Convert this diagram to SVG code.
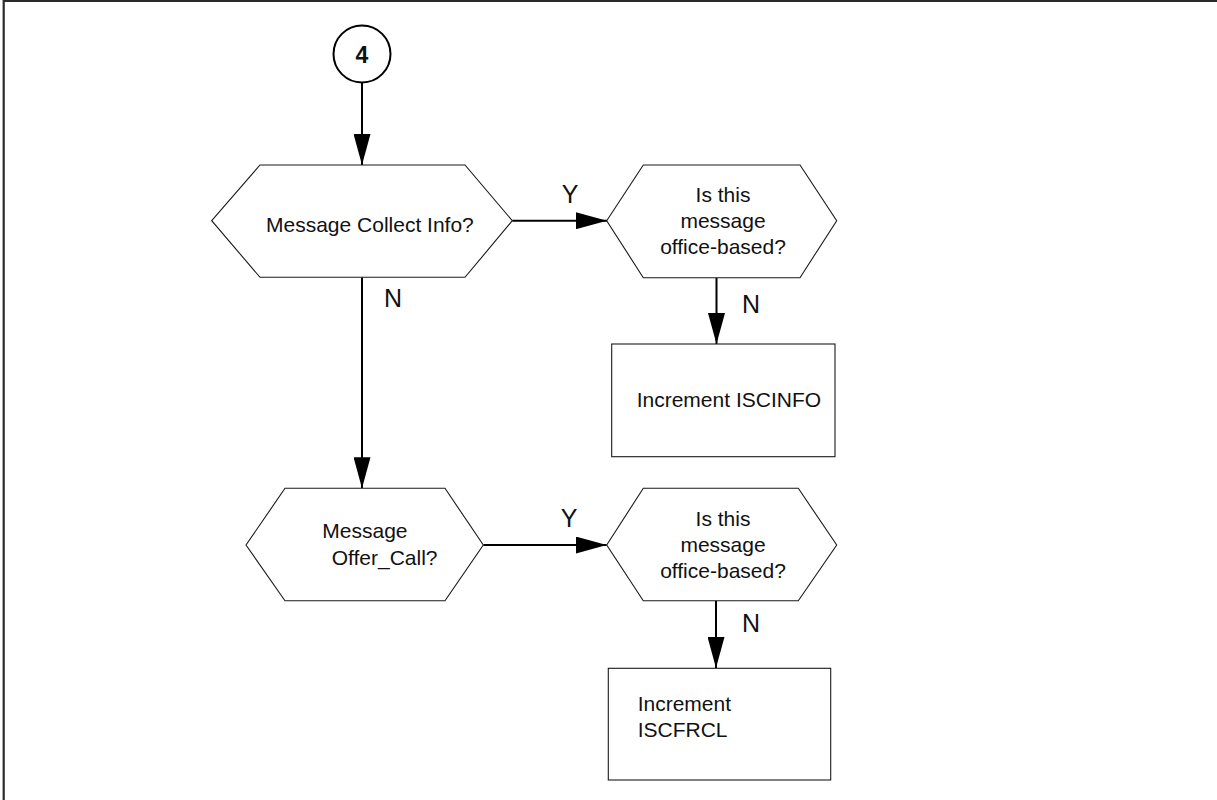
<svg xmlns="http://www.w3.org/2000/svg" width="1217" height="800" viewBox="0 0 1217 800">
  <style>
    .frame { fill: none; stroke: #2b2b2b; stroke-width: 2.2; }
    .shape { fill: #ffffff; stroke: #1a1a1a; stroke-width: 1.1; }
    .term { fill: #ffffff; stroke: #000000; stroke-width: 2; }
    .edge { fill: none; stroke: #000000; stroke-width: 2; marker-end: url(#arrow); }
    .txt { font-family: "Liberation Sans", Arial, sans-serif; font-size: 21px; fill: #111111; }
    .lbl { font-family: "Liberation Sans", Arial, sans-serif; font-size: 25px; fill: #111111; text-anchor: middle; }
    .num { font-family: "Liberation Sans", Arial, sans-serif; font-size: 23px; font-weight: bold; fill: #111111; text-anchor: middle; }
  </style>
  <defs>
    <marker id="arrow" markerUnits="userSpaceOnUse" markerWidth="31" markerHeight="17" refX="31" refY="8.5" orient="auto">
      <path d="M0,0 L31,8.5 L0,17 Z" fill="#000000"/>
    </marker>
  </defs>

  <rect width="1217" height="800" fill="#ffffff"/>
  <path class="frame" d="M3.7,802 V1 H1220"/>

  <!-- connectors -->
  <g id="connectors">
    <line class="edge" x1="362" y1="83" x2="362" y2="165"/>
    <line class="edge" x1="512.3" y1="220.7" x2="607" y2="220.7"/>
    <line class="edge" x1="716.5" y1="277.7" x2="716.5" y2="344"/>
    <line class="edge" x1="362" y1="277.3" x2="362" y2="488.3"/>
    <line class="edge" x1="483.3" y1="545" x2="606.7" y2="545"/>
    <line class="edge" x1="716" y1="600.7" x2="716" y2="668"/>
    <text class="lbl" x="570" y="203">Y</text>
    <text class="lbl" x="751" y="313">N</text>
    <text class="lbl" x="393" y="307">N</text>
    <text class="lbl" x="569" y="527">Y</text>
    <text class="lbl" x="751" y="632">N</text>
  </g>

  <!-- connector 4 -->
  <g id="start">
    <circle class="term" cx="362" cy="54" r="28.5"/>
    <text class="num" x="362" y="63">4</text>
  </g>

  <!-- Message Collect Info? -->
  <g id="collect-info">
    <polygon class="shape" points="211.7,220.7 260,165 465,165 512.3,220.7 465,277.3 260,277.3"/>
    <text class="txt" x="266" y="232">Message Collect Info?</text>
  </g>

  <!-- office-based check (collect info) -->
  <g id="office-based-1">
    <polygon class="shape" points="606.7,220.7 643.3,165 800,165 836.7,220.7 800,277.7 643.3,277.7"/>
    <text class="txt" text-anchor="middle" x="723" y="202">Is this</text>
    <text class="txt" text-anchor="middle" x="723" y="227.8">message</text>
    <text class="txt" text-anchor="middle" x="723" y="253.6">office-based?</text>
  </g>

  <!-- Increment ISCINFO -->
  <g id="iscinfo">
    <rect class="shape" x="611.7" y="344" width="223.3" height="112.7"/>
    <text class="txt" x="636.7" y="407.3">Increment ISCINFO</text>
  </g>

  <!-- Message Offer_Call? -->
  <g id="offer-call">
    <polygon class="shape" points="246,545 285,488.3 445,488.3 483.3,545 445,600.7 285,600.7"/>
    <text class="txt" x="322.3" y="538.3">Message</text>
    <text class="txt" x="331.7" y="565">Offer_Call?</text>
  </g>

  <!-- office-based check (offer call) -->
  <g id="office-based-2">
    <polygon class="shape" points="606.7,545 643.3,488.3 798.3,488.3 836.7,545 798.3,600.7 643.3,600.7"/>
    <text class="txt" text-anchor="middle" x="723" y="526.3">Is this</text>
    <text class="txt" text-anchor="middle" x="723" y="552">message</text>
    <text class="txt" text-anchor="middle" x="723" y="577.9">office-based?</text>
  </g>

  <!-- Increment ISCFRCL -->
  <g id="iscfrcl">
    <rect class="shape" x="608.3" y="668.3" width="222.4" height="111.7"/>
    <text class="txt" x="637.7" y="710.7">Increment</text>
    <text class="txt" x="637.7" y="737.3">ISCFRCL</text>
  </g>
</svg>
